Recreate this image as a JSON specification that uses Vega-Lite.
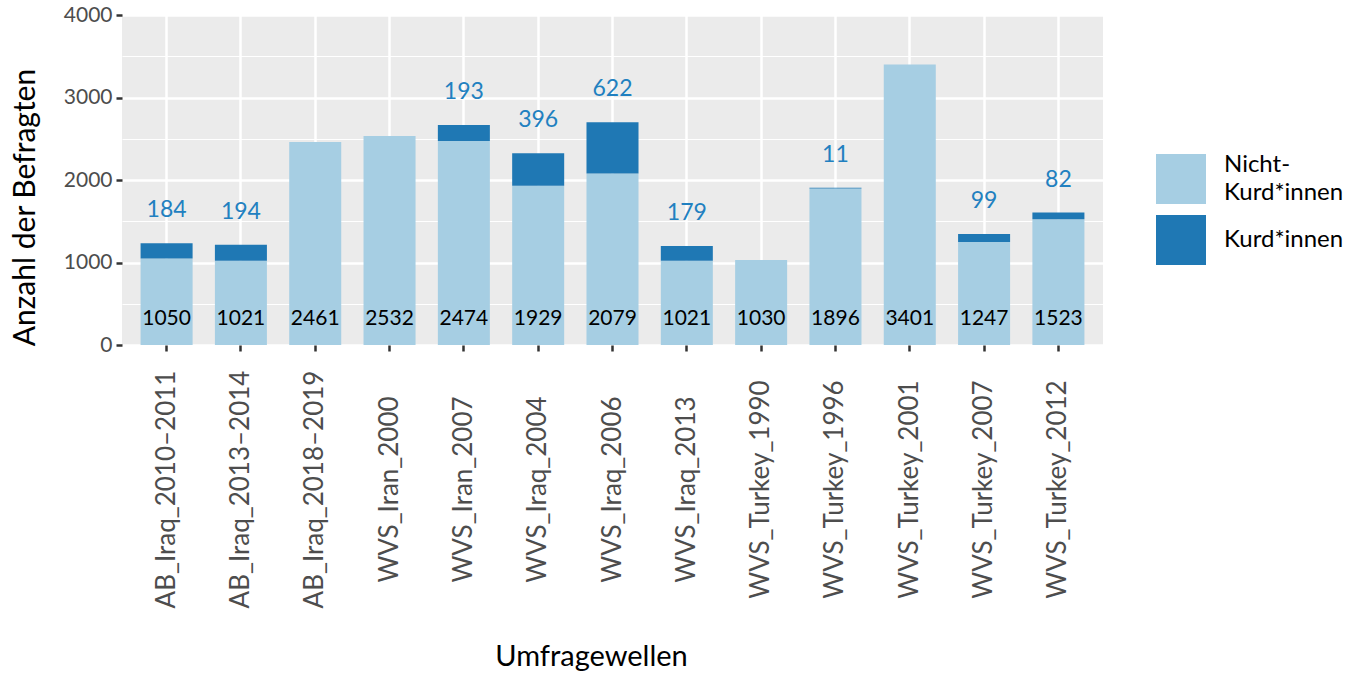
{
  "$schema": "https://vega.github.io/schema/vega-lite/v6.json",
  "autosize": {"type": "none"},
  "width": 981,
  "height": 330,
  "padding": {"left": 122, "top": 15, "right": 261, "bottom": 331},
  "background": "white",
  "config": {
    "view": {"fill": "#ebebeb", "stroke": null},
    "font": "Lato",
    "axis": {
      "domain": false,
      "labelFont": "Lato",
      "titleFont": "Lato",
      "labelColor": "#4d4d4d",
      "titleColor": "#000000",
      "titleFontWeight": "normal",
      "tickColor": "#333333",
      "tickWidth": 2.5,
      "tickSize": 6,
      "gridColor": "#ffffff"
    },
    "legend": {
      "labelFont": "Lato",
      "titleFont": "Lato"
    }
  },
  "data": {
    "values": [
      {"welle": "AB_Iraq_2010–2011", "gruppe": "Nicht-Kurd*innen", "n": 1050},
      {"welle": "AB_Iraq_2010–2011", "gruppe": "Kurd*innen", "n": 184},
      {"welle": "AB_Iraq_2013–2014", "gruppe": "Nicht-Kurd*innen", "n": 1021},
      {"welle": "AB_Iraq_2013–2014", "gruppe": "Kurd*innen", "n": 194},
      {"welle": "AB_Iraq_2018–2019", "gruppe": "Nicht-Kurd*innen", "n": 2461},
      {"welle": "WVS_Iran_2000", "gruppe": "Nicht-Kurd*innen", "n": 2532},
      {"welle": "WVS_Iran_2007", "gruppe": "Nicht-Kurd*innen", "n": 2474},
      {"welle": "WVS_Iran_2007", "gruppe": "Kurd*innen", "n": 193},
      {"welle": "WVS_Iraq_2004", "gruppe": "Nicht-Kurd*innen", "n": 1929},
      {"welle": "WVS_Iraq_2004", "gruppe": "Kurd*innen", "n": 396},
      {"welle": "WVS_Iraq_2006", "gruppe": "Nicht-Kurd*innen", "n": 2079},
      {"welle": "WVS_Iraq_2006", "gruppe": "Kurd*innen", "n": 622},
      {"welle": "WVS_Iraq_2013", "gruppe": "Nicht-Kurd*innen", "n": 1021},
      {"welle": "WVS_Iraq_2013", "gruppe": "Kurd*innen", "n": 179},
      {"welle": "WVS_Turkey_1990", "gruppe": "Nicht-Kurd*innen", "n": 1030},
      {"welle": "WVS_Turkey_1996", "gruppe": "Nicht-Kurd*innen", "n": 1896},
      {"welle": "WVS_Turkey_1996", "gruppe": "Kurd*innen", "n": 11},
      {"welle": "WVS_Turkey_2001", "gruppe": "Nicht-Kurd*innen", "n": 3401},
      {"welle": "WVS_Turkey_2007", "gruppe": "Nicht-Kurd*innen", "n": 1247},
      {"welle": "WVS_Turkey_2007", "gruppe": "Kurd*innen", "n": 99},
      {"welle": "WVS_Turkey_2012", "gruppe": "Nicht-Kurd*innen", "n": 1523},
      {"welle": "WVS_Turkey_2012", "gruppe": "Kurd*innen", "n": 82}
    ]
  },
  "encoding": {
    "x": {
      "field": "welle",
      "type": "nominal",
      "sort": null,
      "scale": {"paddingInner": 0.3, "paddingOuter": 0.25},
      "axis": {
        "title": "Umfragewellen",
        "titleFontSize": 29,
        "titleX": 469,
        "titleY": 320,
        "titleBaseline": "alphabetic",
        "titleAnchor": "middle",
        "titleAlign": "center",
        "labelAngle": -90,
        "labelAlign": "center",
        "labelBaseline": "middle",
        "labelPadding": 138,
        "labelFontSize": 26,
        "labelLimit": 500,
        "bandPosition": 0.5,
        "grid": true,
        "gridWidth": 2.5
      }
    }
  },
  "layer": [
    {
      "mark": {"type": "bar"},
      "encoding": {
        "y": {
          "field": "n",
          "type": "quantitative",
          "stack": "zero",
          "scale": {"domain": [0, 4000], "nice": false},
          "axis": {
            "title": "Anzahl der Befragten",
            "titleFontSize": 30,
            "titleX": -88,
            "titleY": 192,
            "titleAngle": -90,
            "titleAlign": "center",
            "titleBaseline": "alphabetic",
            "values": [0, 500, 1000, 1500, 2000, 2500, 3000, 3500, 4000],
            "labelExpr": "datum.value % 1000 === 0 ? datum.label : ''",
            "labelFontSize": 21,
            "labelPadding": 4,
            "grid": true,
            "gridWidth": {"condition": {"test": "datum.value % 1000 === 0", "value": 2.5}, "value": 1.2},
            "tickOpacity": {"condition": {"test": "datum.value % 1000 === 0", "value": 1}, "value": 0},
            "format": "d"
          }
        },
        "color": {
          "field": "gruppe",
          "type": "nominal",
          "scale": {"domain": ["Nicht-Kurd*innen", "Kurd*innen"], "range": ["#a6cee3", "#1f78b4"]},
          "legend": {
            "title": null,
            "orient": "none",
            "legendX": 1034,
            "legendY": 139,
            "padding": 0,
            "symbolType": "square",
            "symbolSize": 2500,
            "symbolStrokeWidth": 0,
            "symbolOpacity": 1,
            "rowPadding": 10,
            "labelOffset": 18,
            "labelFontSize": 24,
            "labelColor": "#000000",
            "labelBaseline": "middle",
            "labelExpr": "datum.label == 'Nicht-Kurd*innen' ? ['Nicht-', 'Kurd*innen'] : datum.label",
            "encode": {
              "labels": {
                "update": {
                  "lineHeight": {"value": 28},
                  "dy": {"signal": "datum.value == 'Nicht-Kurd*innen' ? -14 : 0"}
                }
              }
            }
          }
        },
        "order": {"field": "gruppe", "sort": "descending"}
      }
    },
    {
      "transform": [{"filter": "datum.gruppe == 'Nicht-Kurd*innen'"}],
      "mark": {"type": "text", "fontSize": 21, "color": "#000000", "baseline": "middle", "font": "Lato"},
      "encoding": {
        "y": {"datum": 320, "type": "quantitative"},
        "text": {"field": "n", "type": "quantitative"}
      }
    },
    {
      "transform": [
        {"joinaggregate": [{"op": "sum", "field": "n", "as": "total"}], "groupby": ["welle"]},
        {"filter": "datum.gruppe == 'Kurd*innen'"}
      ],
      "mark": {"type": "text", "fontSize": 23, "color": "#2180c0", "baseline": "middle", "dy": -33, "font": "Lato"},
      "encoding": {
        "y": {"field": "total", "type": "quantitative"},
        "text": {"field": "n", "type": "quantitative"}
      }
    }
  ]
}
